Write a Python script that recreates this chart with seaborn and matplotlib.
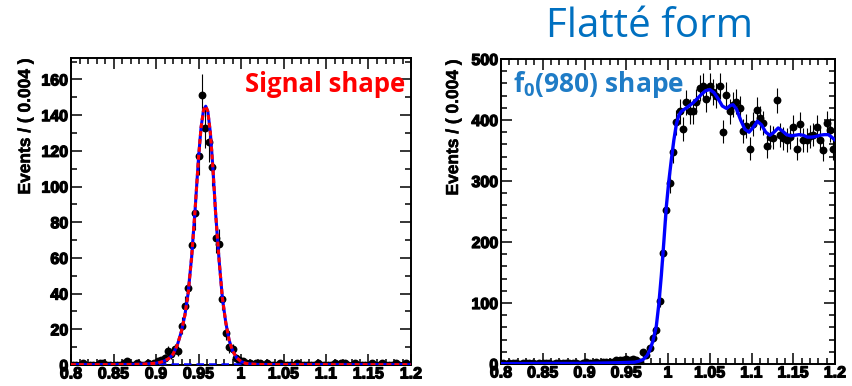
import numpy as np
import matplotlib
matplotlib.use("Agg")
import matplotlib.pyplot as plt
from matplotlib import font_manager
import matplotlib.patheffects as pe
import seaborn as sns
from matplotlib.ticker import MultipleLocator, FixedLocator, FixedFormatter

# ---- binning -------------------------------------------------------------
bin_width = 0.004
first_center = 0.802
n_bins = 100

# ---- eta' -> pi pi eta (signal shape) : counts per bin ---------------------
signal_counts = [0, 0, 0, 1, 0, 0, 0, 0, 1, 1, 0, 0, 0, 0, 0, 1, 2, 0, 0, 1,
                 0, 0, 1, 0, 1, 2, 3, 4, 8, 6, 9, 8, 22, 33, 43, 67, 85, 117, 151, 133,
                 125, 111, 71, 68, 37, 18, 10, 9, 4, 3, 2, 1, 1, 0, 1, 1, 0, 1, 0, 0,
                 0, 1, 0, 0, 0, 0, 1, 0, 0, 0, 0, 0, 1, 0, 0, 0, 0, 1, 0, 1,
                 1, 0, 0, 1, 0, 0, 0, 0, 1, 0, 0, 1, 0, 0, 0, 1, 0, 0, 1, 0]

# fitted signal curve (knots)
signal_fit_x = [0.800, 0.840, 0.870, 0.880, 0.890, 0.900, 0.905, 0.910, 0.915, 0.920,
                0.925, 0.930, 0.934, 0.938, 0.942, 0.946, 0.950, 0.953, 0.956, 0.9585,
                0.961, 0.964, 0.967, 0.970, 0.974, 0.978, 0.982, 0.986, 0.990, 0.995,
                1.000, 1.005, 1.010, 1.020, 1.050, 1.200]
signal_fit_y = [0.2, 0.2, 0.3, 0.4, 0.6, 1.0, 1.5, 2.3, 3.6, 6.0,
                11.0, 19.0, 28.0, 41.0, 61.0, 87.0, 116.0, 133.0, 143.0, 145.0,
                142.0, 130.0, 110.0, 86.0, 60.0, 38.0, 24.0, 14.0, 8.0, 4.0,
                2.0, 1.0, 0.6, 0.3, 0.2, 0.2]
signal_bkg_y = 0.3

# ---- f0(980) Flatte shape : counts per bin ---------------------------------
f0_counts = [1, 0, 1, 2, 1, 0, 1, 1, 2, 1, 0, 1, 2, 1, 1, 0, 1, 2, 1, 1,
             2, 1, 1, 0, 2, 4, 1, 2, 3, 2, 3, 3, 4, 4, 6, 7, 6, 8, 7, 8,
             6, 4, 19, 14, 26, 42, 55, 104, 182, 252,
             297, 348, 396, 414, 386, 429, 414, 414, 430, 453,
             455, 434, 456, 446, 440, 456, 381, 441, 414, 425,
             430, 419, 382, 390, 353, 394, 417, 403, 395, 357,
             372, 371, 432, 375, 370, 367, 372, 389, 353, 394,
             367, 367, 373, 376, 389, 367, 351, 395, 383, 353]

f0_fit_x = [0.800, 0.850, 0.900, 0.940, 0.950, 0.960, 0.965, 0.970, 0.975, 0.978,
            0.982, 0.986, 0.989, 0.992, 0.995, 0.998, 1.001, 1.004, 1.007, 1.010,
            1.013, 1.016, 1.020, 1.025, 1.030, 1.035, 1.040, 1.045, 1.050, 1.055,
            1.060, 1.065, 1.070, 1.075, 1.078, 1.082, 1.087, 1.092, 1.097, 1.102,
            1.107, 1.112, 1.117, 1.122, 1.127, 1.132, 1.137, 1.142, 1.147, 1.152,
            1.157, 1.162, 1.167, 1.172, 1.177, 1.182, 1.187, 1.192, 1.196, 1.200]
f0_fit_y = [0.5, 0.8, 1.0, 2.0, 2.5, 3.0, 4.5, 7.0, 14.0, 22.0,
            38.0, 62.0, 98.0, 145.0, 200.0, 258.0, 300.0, 335.0, 367.0, 393.0,
            408.0, 414.0, 418.0, 423.0, 428.0, 435.0, 442.0, 448.0, 450.0, 445.0,
            435.0, 423.0, 419.0, 424.0, 425.0, 418.0, 400.0, 385.0, 380.0, 388.0,
            398.0, 392.0, 380.0, 375.0, 380.0, 387.0, 382.0, 376.0, 374.0, 375.0,
            376.0, 375.0, 372.0, 372.0, 373.0, 375.0, 376.0, 376.0, 372.0, 367.0]

x_ticks = [0.8, 0.85, 0.9, 0.95, 1.0, 1.05, 1.1, 1.15, 1.2]
x_tick_labels = ["0.8", "0.85", "0.9", "0.95", "1", "1.05", "1.1", "1.15", "1.2"]
ylabel_text = "Events / ( 0.004 )"

assert len(signal_counts) == n_bins and len(f0_counts) == n_bins
assert len(signal_fit_x) == len(signal_fit_y) and len(f0_fit_x) == len(f0_fit_y)

centers = first_center + bin_width * np.arange(n_bins)

# ---- fonts -------------------------------------------------------------------
def have_font(name):
    try:
        font_manager.findfont(font_manager.FontProperties(family=name),
                              fallback_to_default=False)
        return True
    except Exception:
        return False


if have_font("Liberation Sans Narrow"):
    axis_family, tick_size = "Liberation Sans Narrow", 13
else:
    axis_family, tick_size = "Liberation Sans", 11.5

slide_family = "Open Sans" if have_font("Open Sans") else "DejaVu Sans"
heavy = [pe.withStroke(linewidth=0.9, foreground="black")]

# ---- style -----------------------------------------------------------------
sns.set_theme(style="ticks")
plt.rcParams["font.family"] = [axis_family, "DejaVu Sans"]
plt.rcParams["font.weight"] = "bold"
plt.rcParams["mathtext.default"] = "regular"

fig = plt.figure(figsize=(8.52, 3.86), dpi=100)
fig.patch.set_facecolor("white")

W, H = 852.0, 386.0
axL = fig.add_axes([71 / W, 1 - 365 / H, 340 / W, 307 / H])
axR = fig.add_axes([501 / W, 1 - 364 / H, 334 / W, 305 / H])


def draw_data(ax, counts):
    y = np.asarray(counts, dtype=float)
    ax.errorbar(centers, y, yerr=np.sqrt(y), xerr=bin_width / 2, fmt="none",
                ecolor="black", elinewidth=0.8, capsize=0, zorder=3)
    sns.scatterplot(x=centers, y=y, ax=ax, color="black", s=32, linewidth=0,
                    zorder=4, legend=False)


def style_axes(ax, ymax, ymajor, yminor, label_x):
    ax.set_facecolor("white")
    ax.set_xlim(0.8, 1.2)
    ax.set_ylim(0, ymax)
    ax.xaxis.set_major_locator(FixedLocator(x_ticks))
    ax.xaxis.set_major_formatter(FixedFormatter(x_tick_labels))
    ax.xaxis.set_minor_locator(MultipleLocator(0.01))
    ax.yaxis.set_major_locator(MultipleLocator(ymajor))
    ax.yaxis.set_minor_locator(MultipleLocator(yminor))
    ax.tick_params(which="both", direction="in", top=True, right=True,
                   color="black", width=1.1, labelcolor="black",
                   labelsize=tick_size)
    ax.tick_params(which="major", length=8)
    ax.tick_params(which="minor", length=4)
    ax.tick_params(axis="x", which="major", pad=1)
    ax.tick_params(axis="y", which="major", pad=2)
    for sp in ax.spines.values():
        sp.set_visible(True)
        sp.set_linewidth(1.4)
        sp.set_color("black")
    ax.set_xlabel("")
    ax.set_ylabel(ylabel_text, loc="top", fontsize=12.5, fontweight="bold",
                  family=["Liberation Sans"], color="black")
    ax.yaxis.set_label_coords(label_x, 1.0)


# ---- left panel: signal shape ----------------------------------------------
draw_data(axL, signal_counts)
sns.lineplot(x=[0.8, 1.2], y=[signal_bkg_y, signal_bkg_y], ax=axL, color="#0000ff",
             lw=1.8, linestyle=(0, (3, 2)), zorder=5)
sns.lineplot(x=signal_fit_x, y=signal_fit_y, ax=axL, color="#0000ff", lw=2.2,
             sort=False, estimator=None, zorder=5)
sns.lineplot(x=signal_fit_x, y=signal_fit_y, ax=axL, color="#ff0000", lw=2.2,
             sort=False, estimator=None, linestyle=(0, (1.6, 1.0)), zorder=6)
style_axes(axL, 172, 20, 10, -(71 - 33) / 340)
axL.text(405 / W, 1 - 92 / H, "Signal shape", transform=fig.transFigure,
         ha="right", va="baseline", color="#ff0000", fontsize=18.5,
         fontweight="bold", family=[slide_family, "DejaVu Sans"])

# ---- right panel: f0(980) shape ------------------------------------------
draw_data(axR, f0_counts)
sns.lineplot(x=f0_fit_x, y=f0_fit_y, ax=axR, color="#0000ff", lw=2.4,
             sort=False, estimator=None, zorder=5)
style_axes(axR, 500, 100, 20, -(501 - 461) / 334)
axR.text(513 / W, 1 - 92 / H, "f$_0$(980) shape", transform=fig.transFigure,
         ha="left", va="baseline", color="#1f7cc6", fontsize=19,
         fontweight="bold", family=[slide_family, "DejaVu Sans"])

fig.text(649 / W, 1 - 37 / H, "Flatté form", ha="center", va="baseline",
         color="#0070c0", fontsize=29, fontweight="normal",
         family=[slide_family, "DejaVu Sans"])

for ax in (axL, axR):
    leg = ax.get_legend()
    if leg is not None:
        leg.remove()

# draw once so the tick label objects exist, then thicken their strokes
fig.canvas.draw()
for ax in (axL, axR):
    for lab in ax.get_xticklabels() + ax.get_yticklabels():
        lab.set_fontweight("bold")
        lab.set_path_effects(heavy)
    ax.yaxis.label.set_path_effects([pe.withStroke(linewidth=0.4, foreground="black")])

fig.savefig("out.png", dpi=100, facecolor="white")
